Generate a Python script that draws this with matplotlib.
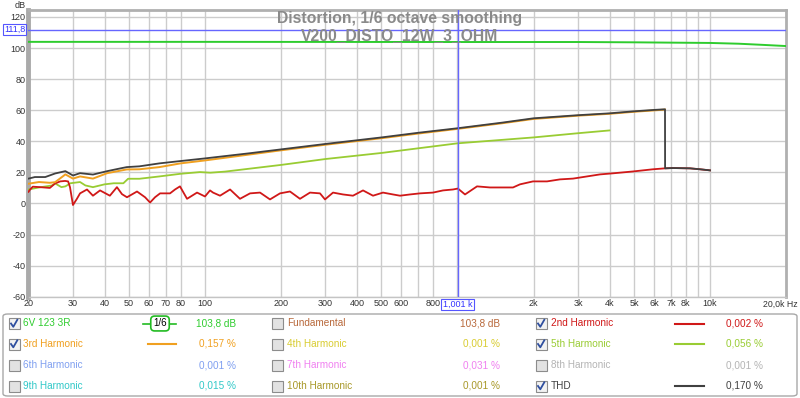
import matplotlib.pyplot as plt
from matplotlib.patches import Rectangle, FancyBboxPatch
from matplotlib.lines import Line2D
import numpy as np

plt.rcParams['font.family'] = ['Liberation Sans', 'DejaVu Sans']

# Fundamental (6V 123 3R), dB
fund_freq = [20, 100, 1000, 3000, 5000, 7000, 10000, 13000, 16000, 20000]
fund_db = [104.0, 104.0, 103.9, 103.9, 103.7, 103.5, 103.3, 102.8, 102.1, 101.3]

# THD, dB
thd_freq = [20, 21.2, 23.3, 25.5, 28.0, 30.0, 32.0, 36.0, 41.0, 46.0, 49.0, 55.0,
            66.0, 80.0, 100, 150, 200, 300, 500, 700, 1000, 1500, 2000, 3000,
            4000, 5000, 6000, 6635, 6640, 7137, 8334, 9128, 10000]
thd_db = [16.0, 17.0, 17.0, 19.3, 20.8, 18.0, 19.5, 18.6, 20.8, 22.5, 23.4, 23.9,
          25.8, 27.3, 29.0, 32.3, 34.8, 38.3, 42.5, 45.5, 48.4, 52.0, 54.8, 56.8,
          58.0, 59.3, 60.2, 60.6, 22.6, 22.8, 22.6, 22.0, 21.3]

# 3rd harmonic, dB
h3_freq = [20, 22.0, 24.3, 25.5, 28.0, 30.0, 32.0, 36.0, 41.0, 49.0, 55.0, 66.0,
           80.0, 100, 150, 200, 300, 500, 700, 1000, 1500, 2000, 3000, 4000,
           5000, 6000, 6635]
h3_db = [12.7, 13.8, 13.3, 13.7, 18.7, 16.0, 17.4, 16.0, 19.5, 21.9, 22.0, 23.4,
         25.8, 27.7, 31.5, 34.2, 37.8, 42.0, 45.0, 48.0, 51.6, 54.4, 56.5, 57.7,
         59.0, 59.9, 60.4]

# 5th harmonic, dB
h5_freq = [20, 22.0, 24.8, 25.5, 27.0, 28.0, 29.3, 32.0, 33.6, 36.0, 40.0, 43.5,
           47.5, 49.6, 55.0, 66.0, 80.0, 95.5, 105, 120, 200, 300, 500, 1000,
           2000, 3000, 4000]
h5_db = [9.0, 10.3, 11.6, 12.9, 10.5, 11.0, 13.0, 13.8, 11.6, 10.5, 12.3, 13.0,
         13.0, 15.9, 15.9, 17.4, 19.1, 20.2, 19.8, 20.5, 24.8, 28.6, 32.5, 38.7,
         42.5, 45.2, 47.0]

# 2nd harmonic, dB
h2_freq = [20, 20.3, 20.8, 22.2, 24.3, 25.5, 26.7, 27.9, 28.7, 29.2, 30.0, 31.1,
           32.0, 34.1, 36.0, 38.4, 42.0, 44.8, 46.9, 49.1, 53.8, 57.9, 60.6, 63.4,
           66.4, 72.7, 76.1, 79.6, 84.9, 93.0, 100, 104.7, 107.6, 114.7, 125.7,
           137.6, 150.8, 165.2, 180.9, 198.2, 217.1, 237.8, 260.5, 285.4, 298.7,
           321.4, 352.1, 385.6, 422.5, 462.8, 507, 555.4, 592, 648.6, 710.6, 800,
           876.5, 960, 1004, 1071, 1195, 1345, 1474, 1659, 1768, 1991, 2263, 2547,
           2867, 3258, 3667, 4129, 4957, 5948, 6635, 7137, 8334, 9128, 10000]
h2_db = [7.5, 9.0, 10.8, 10.5, 10.0, 12.9, 14.2, 14.5, 14.2, 10.5, -1.0, 3.0,
         6.5, 9.0, 5.0, 8.4, 5.0, 10.5, 6.0, 4.0, 7.7, 4.0, 0.6, 4.0,
         6.5, 6.5, 9.0, 11.0, 3.0, 7.0, 4.5, 8.4, 7.0, 5.0, 9.0,
         3.0, 6.5, 7.0, 2.6, 6.5, 7.7, 3.0, 7.0, 6.5, 2.6,
         7.0, 5.8, 5.0, 8.4, 5.0, 7.0, 5.8, 5.0, 5.8, 6.5, 7.0,
         8.4, 9.0, 9.6, 5.8, 11.0, 10.3, 10.3, 10.3, 12.3, 14.2, 14.2, 15.5,
         16.0, 17.4, 18.7, 19.4, 20.6, 22.0, 22.6, 22.8, 22.6, 22.0, 21.3]

cursor_freq = 1001
cursor_db = 111.8

x_ticks = [20, 30, 40, 50, 60, 70, 80, 100, 200, 300, 400, 500, 600, 800,
           2000, 3000, 4000, 5000, 6000, 7000, 8000, 10000]
x_tick_labels = ['20', '30', '40', '50', '60', '70', '80', '100', '200', '300',
                 '400', '500', '600', '800', '2k', '3k', '4k', '5k', '6k', '7k',
                 '8k', '10k']
x_grid = [30, 40, 50, 60, 70, 80, 100, 200, 300, 400, 500, 600, 700, 800, 1000,
          2000, 3000, 4000, 5000, 6000, 7000, 8000, 9000, 10000]
y_ticks = [-60, -40, -20, 0, 20, 40, 60, 80, 100, 120]

legend_names = ['6V 123 3R', 'Fundamental', '2nd Harmonic',
                '3rd Harmonic', '4th Harmonic', '5th Harmonic',
                '6th Harmonic', '7th Harmonic', '8th Harmonic',
                '9th Harmonic', '10th Harmonic', 'THD']
legend_values = ['103,8 dB', '103,8 dB', '0,002 %',
                 '0,157 %', '0,001 %', '0,056 %',
                 '0,001 %', '0,031 %', '0,001 %',
                 '0,015 %', '0,001 %', '0,170 %']
legend_checked = [True, False, True,
                  True, False, True,
                  False, False, False,
                  False, False, True]
legend_colors = ['#2ecc2e', '#b8683a', '#d01818',
                 '#f0a020', '#d8cc30', '#99cc33',
                 '#7f9ff0', '#f080f0', '#b4b4b4',
                 '#30c8c8', '#a89828', '#404040']

W, H = 800, 398


def fx(px):
    return px / W


def fy(py):
    return 1 - py / H


fig = plt.figure(figsize=(8, 3.98), dpi=100)
fig.patch.set_facecolor('white')
ax = fig.add_axes([fx(28.5), fy(296.7), (786 - 28.5) / W, (296.7 - 10) / H])

# curves
ax.plot(fund_freq, fund_db, color='#2ecc2e', lw=1.4, zorder=3)
ax.plot(h5_freq, h5_db, color='#99cc33', lw=1.3, zorder=3)
ax.plot(h2_freq, h2_db, color='#d01818', lw=1.3, zorder=3)
ax.plot(h3_freq, h3_db, color='#f0a020', lw=1.4, zorder=4)
ax.plot(thd_freq, thd_db, color='#404040', lw=1.3, zorder=5)

# cursor
ax.axvline(cursor_freq, color='#6666ff', lw=1, zorder=6)
ax.axhline(cursor_db, color='#6666ff', lw=1, zorder=6)

ax.set_xscale('log')
ax.set_xlim(20, 20000)
ax.set_ylim(-60, 124.5)
ax.set_xticks(x_ticks)
ax.set_xticklabels(x_tick_labels)
ax.minorticks_off()
ax.set_yticks(y_ticks)
ax.set_yticklabels([str(v) for v in y_ticks])
ax.tick_params(length=0, labelsize=6.5, labelcolor='#333333', pad=2)
for v in x_grid:
    ax.axvline(v, color='#cccccc', lw=1, zorder=1)
for v in y_ticks:
    ax.axhline(v, color='#cccccc', lw=1, zorder=1)

for side in ['top', 'right']:
    ax.spines[side].set_color('#b0b0b0')
    ax.spines[side].set_linewidth(2)
ax.spines['left'].set_color('#aaaaaa')
ax.spines['left'].set_linewidth(3.5)
ax.spines['bottom'].set_color('#c4c4c4')
ax.spines['bottom'].set_linewidth(1)

# title
fig.text(0.5, fy(19), 'Distortion, 1/6 octave smoothing', ha='center', va='center',
         fontsize=11.3, fontweight='bold', color='#8a8a8a')
fig.text(0.5, fy(35.5), 'V200_DISTO_12W_3_OHM', ha='center', va='center',
         fontsize=11.3, fontweight='bold', color='#8a8a8a')

# axis unit labels and cursor labels
fig.text(fx(20), fy(5), 'dB', ha='center', va='center', fontsize=6.5, color='#333333')
fig.text(fx(798), fy(304.5), '20,0k Hz', ha='right', va='center', fontsize=6.3,
         color='#333333')
fig.text(fx(14.5), fy(29.5), '111,8', ha='center', va='center', fontsize=6.5,
         color='#3333ff',
         bbox=dict(boxstyle='square,pad=0.15', fc='white', ec='#5555ff', lw=0.8))
fig.text(fx(457.5), fy(304.5), '1,001 k', ha='center', va='center', fontsize=6.5,
         color='#3333ff',
         bbox=dict(boxstyle='square,pad=0.15', fc='white', ec='#5555ff', lw=0.8))

# legend panel
fig.add_artist(FancyBboxPatch((fx(3), fy(396)), (794) / W, (82) / H,
                              boxstyle='round,pad=0,rounding_size=0.006',
                              transform=fig.transFigure, fc='white',
                              ec='#a8a8a8', lw=1))

row_y = [323.5, 344, 365, 386]
box_x = [8.5, 272, 535.5]
name_x = [23, 287, 551]
value_x = [236, 500, 763]
line_x = {0: (148, 176), 2: (675, 704)}

for i, name in enumerate(legend_names):
    r, c = divmod(i, 3)
    yc = row_y[r]
    col = legend_colors[i]
    bx, by = box_x[c], yc - 5.5
    fig.add_artist(Rectangle((fx(bx), fy(by + 11)), 11 / W, 11 / H,
                             transform=fig.transFigure,
                             fc='#f2f2f2' if legend_checked[i] else '#e2e2e2',
                             ec='#8c8c8c', lw=0.8))
    if legend_checked[i]:
        fig.add_artist(Line2D([fx(bx + 2.5), fx(bx + 4.8), fx(bx + 8.8)],
                              [fy(by + 5.5), fy(by + 8.8), fy(by + 1.8)],
                              transform=fig.transFigure, color='#2f4f9f', lw=1.3))
    fig.text(fx(name_x[c]), fy(yc), name, ha='left', va='center', fontsize=7.2,
             color=col)
    fig.text(fx(value_x[c]), fy(yc), legend_values[i], ha='right', va='center',
             fontsize=7.2, color=col)
    if legend_checked[i] and c in line_x and i != 0:
        x0, x1 = line_x[c]
        fig.add_artist(Line2D([fx(x0), fx(x1)], [fy(yc), fy(yc)],
                              transform=fig.transFigure, color=col, lw=1.5))

# smoothing indicator for the first entry
fig.add_artist(Line2D([fx(143), fx(176)], [fy(323.5), fy(323.5)],
                      transform=fig.transFigure, color='#22bb22', lw=1.2))
fig.text(fx(160), fy(323.5), '1/6', ha='center', va='center', fontsize=7,
         color='black',
         bbox=dict(boxstyle='round,pad=0.25,rounding_size=0.4', fc='white',
                   ec='#22bb22', lw=1.2))

fig.savefig('out.png', dpi=100, facecolor='white')
